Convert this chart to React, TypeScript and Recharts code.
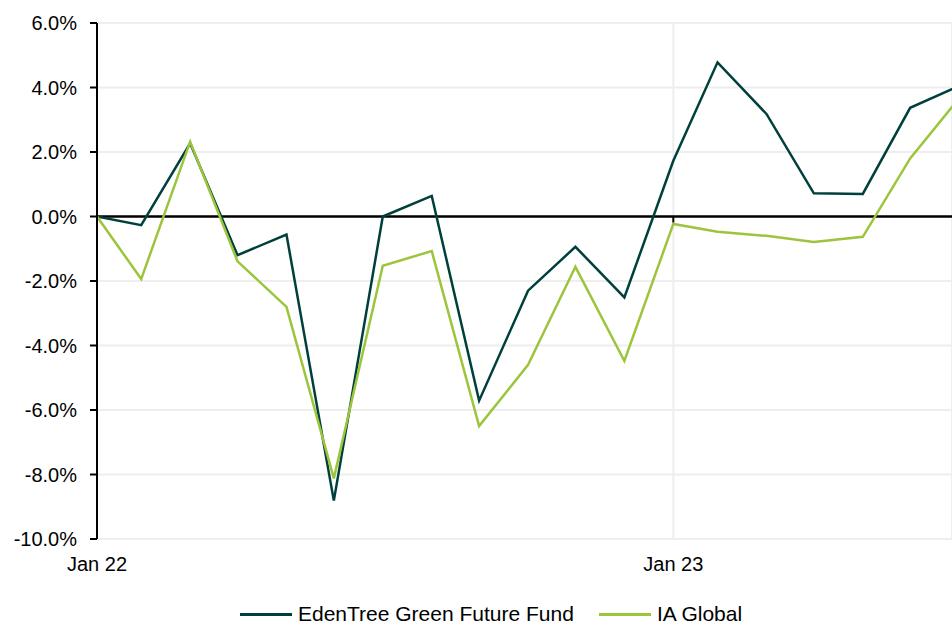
import { LineChart, Line, XAxis, YAxis, CartesianGrid, ReferenceLine, Legend } from "recharts";

// month-end dates, Jan 22 .. Jul 23
const dates = [
	Date.UTC(2022, 0, 31), Date.UTC(2022, 1, 28), Date.UTC(2022, 2, 31), Date.UTC(2022, 3, 30),
	Date.UTC(2022, 4, 31), Date.UTC(2022, 5, 30), Date.UTC(2022, 6, 31), Date.UTC(2022, 7, 31),
	Date.UTC(2022, 8, 30), Date.UTC(2022, 9, 31), Date.UTC(2022, 10, 30), Date.UTC(2022, 11, 31),
	Date.UTC(2023, 0, 31), Date.UTC(2023, 1, 28), Date.UTC(2023, 2, 31), Date.UTC(2023, 3, 30),
	Date.UTC(2023, 4, 31), Date.UTC(2023, 5, 30), Date.UTC(2023, 6, 31),
];
const edenTree = [0, -0.27, 2.27, -1.2, -0.56, -8.81, 0.0, 0.64, -5.71, -2.3, -0.94, -2.51, 1.73, 4.78, 3.18, 0.72, 0.7, 3.37, 4.05];
const iaGlobal = [0, -1.94, 2.32, -1.39, -2.8, -8.12, -1.53, -1.07, -6.5, -4.6, -1.56, -4.48, -0.23, -0.47, -0.6, -0.79, -0.63, 1.8, 3.67];
const xTicks = [Date.UTC(2022, 0, 31), Date.UTC(2023, 0, 31)];
const yTicks = [-10, -8, -6, -4, -2, 0, 2, 4, 6];
const seriesNames = ["EdenTree Green Future Fund", "IA Global"];

const DARK = "#00403c";
const LIGHT = "#9cc43c";
const X_END = Date.UTC(2023, 6, 26, 12);

const data = dates.map((d, i) => ({ date: d, fund: edenTree[i], sector: iaGlobal[i] }));

const MONTHS = ["Jan", "Feb", "Mar", "Apr", "May", "Jun", "Jul", "Aug", "Sep", "Oct", "Nov", "Dec"];
const fmtDate = (t: number) => {
	const d = new Date(t);
	return `${MONTHS[d.getUTCMonth()]} ${String(d.getUTCFullYear()).slice(2)}`;
};

function LegendBox() {
	const items = [
		{ name: seriesNames[0], color: DARK },
		{ name: seriesNames[1], color: LIGHT },
	];
	return (
		<div style={{ height: 40, display: "flex", alignItems: "flex-start" }}>
			<div style={{ marginTop: 20, marginLeft: 240, display: "flex", alignItems: "center", height: 20 }}>
				{items.map((it, i) => (
					<div key={it.name} style={{ display: "flex", alignItems: "center", marginRight: i === 0 ? 25 : 0 }}>
						<span style={{ display: "inline-block", width: 52, height: 3, background: it.color, marginRight: 6 }} />
						<span style={{ fontSize: 21, lineHeight: "20px", color: "#000" }}>{it.name}</span>
					</div>
				))}
			</div>
		</div>
	);
}

export default function App() {
	return (
		<div
			style={{
				position: "absolute",
				left: 0,
				top: 0,
				width: 952,
				height: 624,
				overflow: "hidden",
				background: "#fff",
				fontFamily: "'Liberation Sans', Arial, sans-serif",
			}}
		>
			<LineChart width={952} height={624} data={data} margin={{ top: 23, right: 0, bottom: 0, left: 0 }}>
				<CartesianGrid stroke="#eeeeee" strokeWidth={2} />
				<XAxis
					dataKey="date"
					type="number"
					domain={[xTicks[0], X_END]}
					allowDataOverflow
					ticks={xTicks}
					tickFormatter={fmtDate}
					axisLine={false}
					tickLine={false}
					tickSize={6}
					tickMargin={12}
					height={45}
					tick={{ fill: "#000", fontSize: 20 }}
				/>
				<YAxis
					domain={[-10, 6]}
					ticks={yTicks}
					tickFormatter={(v) => `${Number(v).toFixed(1)}%`}
					width={97}
					axisLine={{ stroke: "#000", strokeWidth: 2 }}
					tickLine={{ stroke: "#000", strokeWidth: 2 }}
					tickSize={7}
					tickMargin={13}
					tick={{ fill: "#000", fontSize: 20 }}
					interval={0}
				/>
				<ReferenceLine y={0} stroke="#000" strokeWidth={2.5} />
				{xTicks.map((t) => (
					<ReferenceLine
						key={t}
						segment={[
							{ x: t, y: 0 },
							{ x: t, y: -0.19 },
						]}
						stroke="#000"
						strokeWidth={2}
					/>
				))}
				<Line dataKey="fund" name={seriesNames[0]} stroke={DARK} strokeWidth={2.5} dot={false} isAnimationActive={false} />
				<Line dataKey="sector" name={seriesNames[1]} stroke={LIGHT} strokeWidth={2.5} dot={false} isAnimationActive={false} />
				<Legend verticalAlign="bottom" content={() => <LegendBox />} wrapperStyle={{ left: 0, width: 952 }} />
			</LineChart>
		</div>
	);
}
